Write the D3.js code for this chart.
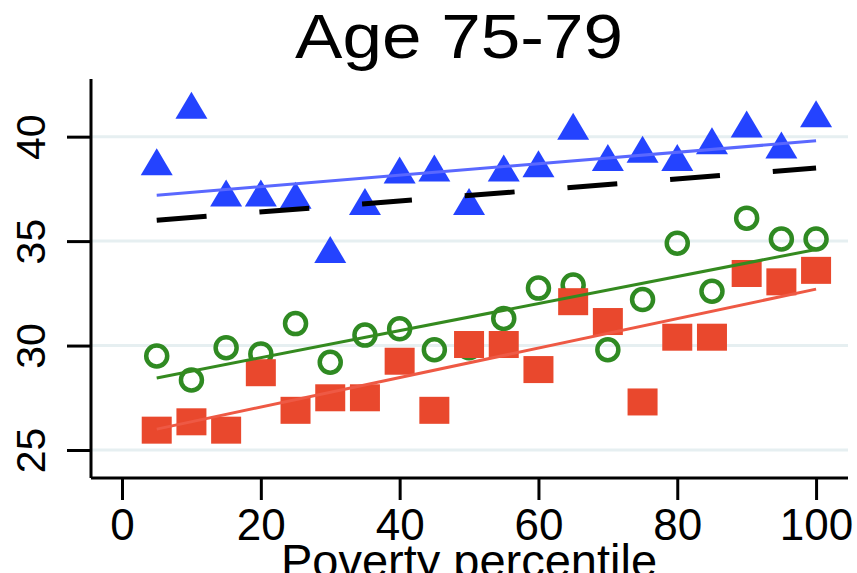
<!DOCTYPE html>
<html>
<head>
<meta charset="utf-8">
<script src="https://cdn.jsdelivr.net/npm/d3@7"></script>
<style>
  html, body { margin: 0; padding: 0; background: #fff; }
  svg { display: block; font-family: "Liberation Sans", Arial, Helvetica, sans-serif; }
</style>
</head>
<body>
<svg id="chart" width="857" height="573"></svg>
<script>
// Poverty percentile groups (x positions of the markers)
const percentiles = [5, 10, 15, 20, 25, 30, 35, 40, 45, 50, 55, 60, 65, 70, 75, 80, 85, 90, 95, 100];

// Marker series (outcome value per percentile group)
const triangleValues = [38.8, 41.5, 37.3, 37.3, 37.2, 34.6, 36.9, 38.4, 38.5, 36.9,
                        38.5, 38.7, 40.5, 39.0, 39.4, 39.0, 39.8, 40.6, 39.6, 41.1];
const circleValues   = [29.5, 28.35, 29.9, 29.6, 31.05, 29.2, 30.5, 30.8, 29.8, 29.9,
                        31.3, 32.75, 32.9, 29.8, 32.2, 34.9, 32.6, 36.1, 35.1, 35.1];
const squareValues   = [25.95, 26.35, 25.95, 28.7, 26.9, 27.5, 27.5, 29.25, 26.9, 30.05,
                        30.05, 28.85, 32.1, 31.15, 27.3, 30.4, 30.4, 33.45, 33.05, 33.6];

// Fitted lines: value at the first and last percentile of fitRange
const fitRange   = [5, 100];
const triangleFit = [37.2, 39.8];
const circleFit   = [28.45, 34.6];
const squareFit   = [26.0, 32.7];
const dashedFit   = [36.0, 38.5];

// Axis ticks
const xTicks = [0, 20, 40, 60, 80, 100];
const yTicks = [25, 30, 35, 40];

const titleText = "Age 75-79";
const xTitle = "Poverty percentile";

const svg = d3.select("#chart");

const plotLeft = 91, plotRight = 848, plotTop = 79, plotBottom = 478;

const x = d3.scaleLinear().domain([-4.47, 104.6]).range([plotLeft, plotRight]);
const y = d3.scaleLinear().domain([23.66, 42.76]).range([plotBottom, plotTop]);

// Horizontal grid lines
svg.append("g")
  .selectAll("line")
  .data(yTicks)
  .join("line")
  .attr("x1", plotLeft).attr("x2", plotRight)
  .attr("y1", d => y(d)).attr("y2", d => y(d))
  .attr("stroke", "#e6eff1")
  .attr("stroke-width", 3);

// Hollow green circles
svg.append("g")
  .selectAll("circle")
  .data(percentiles.map((p, i) => [p, circleValues[i]]))
  .join("circle")
  .attr("cx", d => x(d[0]))
  .attr("cy", d => y(d[1]))
  .attr("r", 10.5)
  .attr("fill", "none")
  .attr("stroke", "#2f8a22")
  .attr("stroke-width", 4.5);

// Filled red squares
const sqW = 30, sqH = 27;
svg.append("g")
  .selectAll("rect")
  .data(percentiles.map((p, i) => [p, squareValues[i]]))
  .join("rect")
  .attr("x", d => x(d[0]) - sqW / 2)
  .attr("y", d => y(d[1]) - sqH / 2)
  .attr("width", sqW)
  .attr("height", sqH)
  .attr("fill", "#e9482d");

// Filled blue triangles (centred on their bounding box)
const triW = 32, triH = 27;
const triPath = `M0,${-triH / 2}L${triW / 2},${triH / 2}L${-triW / 2},${triH / 2}Z`;
svg.append("g")
  .selectAll("path")
  .data(percentiles.map((p, i) => [p, triangleValues[i]]))
  .join("path")
  .attr("d", triPath)
  .attr("transform", d => `translate(${x(d[0])},${y(d[1])})`)
  .attr("fill", "#2443ff");

// Fitted lines
const line = d3.line().x(d => x(d[0])).y(d => y(d[1]));
function fitLine(values, color, width, dash) {
  const pts = fitRange.map((p, i) => [p, values[i]]);
  const path = svg.append("path")
    .attr("d", line(pts))
    .attr("fill", "none")
    .attr("stroke", color)
    .attr("stroke-width", width);
  if (dash) path.attr("stroke-dasharray", dash);
}
fitLine(squareFit, "#ee5944", 3);
fitLine(circleFit, "#348a1f", 3);
fitLine(triangleFit, "#5a68ff", 3);
fitLine(dashedFit, "#000", 5, "50 53");

// Axes
const xAxis = d3.axisBottom(x).tickValues(xTicks).tickSize(22).tickPadding(8).tickFormat(d3.format("d"));
const gx = svg.append("g").attr("transform", `translate(0,${plotBottom})`).call(xAxis);
gx.select(".domain").attr("d", `M${plotLeft},0H${plotRight}`).attr("stroke", "#000").attr("stroke-width", 3);
gx.selectAll(".tick line").attr("stroke", "#000").attr("stroke-width", 3);
gx.selectAll(".tick text")
  .attr("fill", "#000")
  .attr("font-size", 44)
  .attr("font-family", "'Liberation Sans', Arial, sans-serif")
  .attr("dy", null)
  .attr("y", 62);

const yAxis = d3.axisLeft(y).tickValues(yTicks).tickSize(24).tickFormat(d3.format("d"));
const gy = svg.append("g").attr("transform", `translate(${plotLeft},0)`).call(yAxis);
gy.select(".domain").attr("d", `M0,${plotTop}V${plotBottom}`).attr("stroke", "#000").attr("stroke-width", 3);
gy.selectAll(".tick line").attr("stroke", "#000").attr("stroke-width", 3);
gy.selectAll(".tick text")
  .attr("fill", "#000")
  .attr("font-size", 41)
  .attr("font-family", "'Liberation Sans', Arial, sans-serif")
  .attr("x", null).attr("dy", null)
  .attr("text-anchor", "middle")
  .attr("transform", `translate(${45 - plotLeft},0) rotate(-90)`);

// Title
svg.append("text")
  .attr("x", 459).attr("y", 58)
  .attr("text-anchor", "middle")
  .attr("font-size", 63)
  .attr("textLength", 328)
  .attr("lengthAdjust", "spacingAndGlyphs")
  .attr("fill", "#000")
  .text(titleText);

// X-axis title
svg.append("text")
  .attr("x", 469).attr("y", 577)
  .attr("text-anchor", "middle")
  .attr("font-size", 47)
  .attr("fill", "#000")
  .text(xTitle);
</script>
</body>
</html>
